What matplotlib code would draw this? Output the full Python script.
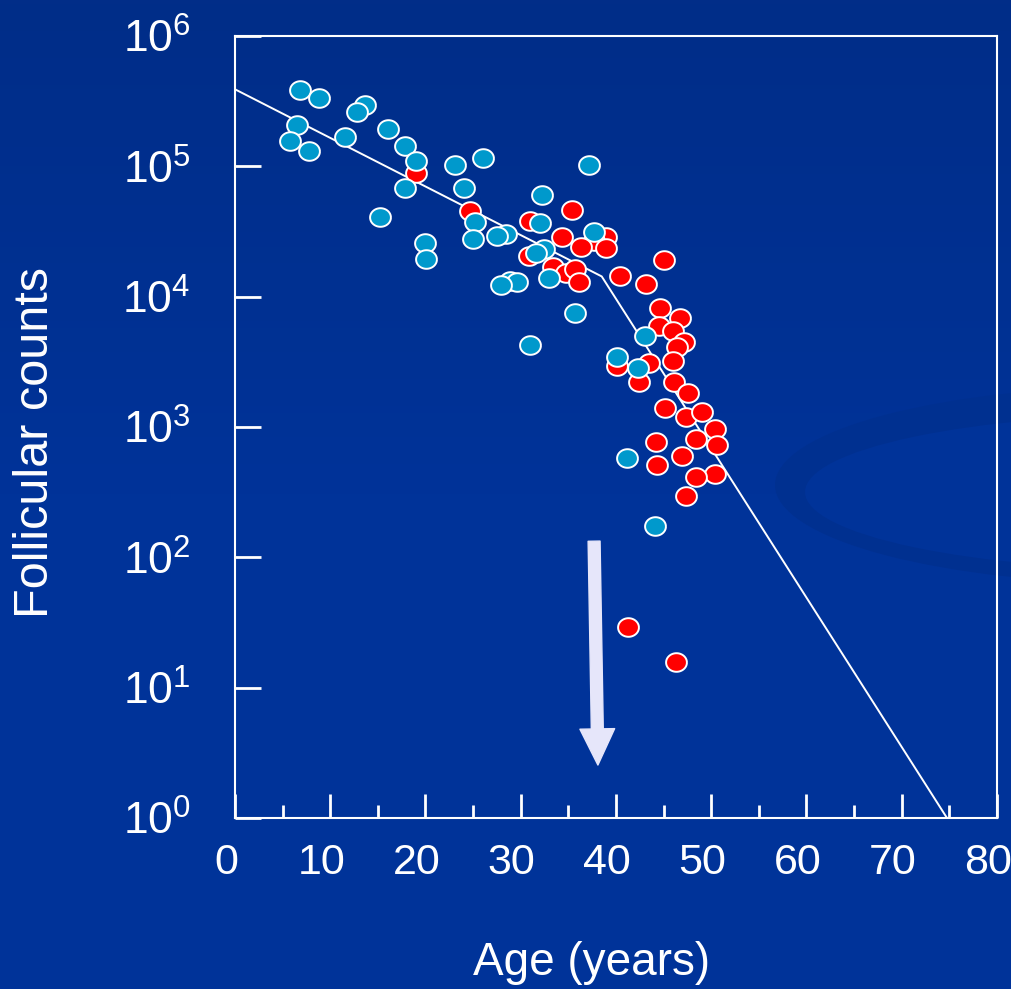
import numpy as np
import matplotlib
matplotlib.use("Agg")
import matplotlib.pyplot as plt
from matplotlib.path import Path
from matplotlib.patches import Ellipse, FancyArrowPatch
from matplotlib.ticker import FixedLocator, NullFormatter
from matplotlib.transforms import ScaledTranslation
from matplotlib.colors import LinearSegmentedColormap

plt.rcParams['font.family'] = ['Liberation Sans', 'DejaVu Sans']
plt.rcParams['mathtext.fontset'] = 'custom'
plt.rcParams['mathtext.rm'] = 'Liberation Sans'

# cyan group (age in years, follicle count)
cyan_age = [6.8, 8.8, 13.7, 12.8, 6.5, 5.8, 7.8, 11.6, 16.1, 17.8, 19.0, 23.1, 26.0,
            37.2, 17.8, 24.0, 15.2, 32.2, 32.0, 25.2, 25.0, 28.5, 27.5, 20.0, 20.1,
            37.7, 32.4, 31.6, 33.0, 28.9, 29.6, 27.9, 35.7, 31.0, 43.0, 40.1, 42.3,
            41.2, 44.1]
cyan_count = [385000, 337000, 296000, 259000, 207000, 157000, 130000, 169000, 195000,
              143000, 109000, 102000, 115000, 102000, 68200, 67900, 40800, 60300,
              36600, 37200, 27900, 30300, 29000, 25700, 19600, 31200, 23200, 21800,
              13800, 13300, 12900, 12200, 7530, 4260, 5020, 3470, 2820, 583, 173]

# red group
red_age = [19.0, 24.7, 31.0, 35.4, 34.3, 39.0, 37.7, 36.3, 38.9, 30.9, 33.4, 34.8,
           35.7, 36.1, 40.4, 45.0, 43.2, 44.6, 46.7, 44.5, 46.0, 47.1, 46.4, 46.0,
           40.1, 43.5, 42.4, 46.1, 47.6, 45.1, 47.4, 49.0, 50.4, 48.4, 50.6, 44.2,
           46.9, 44.3, 50.4, 48.4, 47.3, 41.3, 46.3]
red_count = [88300, 45400, 38300, 46000, 28500, 28800, 26900, 24000, 23600, 20500,
             16800, 15100, 16400, 13000, 14300, 19100, 12600, 8240, 6820, 5960, 5460,
             4520, 4080, 3230, 2940, 3080, 2230, 2230, 1820, 1410, 1190, 1310, 959,
             815, 728, 762, 603, 512, 437, 410, 296, 29.4, 15.6]

# broken-line fit
fit_age = [0, 38.5, 74.75]
fit_count = [3.9e5, 1.43e4, 1.0]

x_ticks = [0, 10, 20, 30, 40, 50, 60, 70, 80]
x_minor = [5, 15, 25, 35, 45, 55, 65, 75]
y_ticks = [1e0, 1e1, 1e2, 1e3, 1e4, 1e5, 1e6]
y_labels = [r'$\mathregular{10^{%d}}$' % i for i in range(7)]

bg = '#003399'
fig = plt.figure(figsize=(10.12, 9.89), dpi=100)
fig.patch.set_facecolor(bg)

# background: soft gradient + faint swoosh
bgax = fig.add_axes([0, 0, 1, 1], zorder=-5)
grad = np.linspace(0, 1, 256).reshape(-1, 1)
cmap = LinearSegmentedColormap.from_list('bg', ['#012d88', '#003399', '#003399'])
bgax.imshow(grad, extent=[0, 1012, 989, 0], aspect='auto', cmap=cmap)
bgax.add_patch(Ellipse((1150, 485), 750, 198, facecolor='#003090', edgecolor='none'))
bgax.add_patch(Ellipse((1175, 492), 740, 156, facecolor=bg, edgecolor='none'))
bgax.set_xlim(0, 1012)
bgax.set_ylim(989, 0)
bgax.axis('off')

ax = fig.add_axes([235/1012, 1 - 818/989, (997-235)/1012, (818-36)/989])
ax.set_facecolor('none')
ax.set_yscale('log')
ax.set_xlim(0, 80)
ax.set_ylim(1, 1e6)

th = np.linspace(0, 2*np.pi, 64)
oval = Path(np.column_stack([1.12*np.cos(th), np.sin(th)]))

ax.plot(fit_age, fit_count, color='white', lw=1.4, zorder=2)
ax.plot(red_age, red_count, ls='none', marker=oval, ms=15, mfc='#ff0000',
        mec='white', mew=1.4, zorder=3)
ax.plot(cyan_age, cyan_count, ls='none', marker=oval, ms=15, mfc='#0099cc',
        mec='white', mew=1.4, zorder=4)

arrow = FancyArrowPatch((37.7, 133), (38.1, 2.55),
                        arrowstyle='simple,head_length=26,head_width=25,tail_width=8.6',
                        mutation_scale=1, color='#e6e6fa', shrinkA=0, shrinkB=0, zorder=5)
ax.add_patch(arrow)

for s in ax.spines.values():
    s.set_color('white')
    s.set_linewidth(1.5)

ax.xaxis.set_major_locator(FixedLocator(x_ticks))
ax.xaxis.set_minor_locator(FixedLocator(x_minor))
ax.xaxis.set_minor_formatter(NullFormatter())
ax.yaxis.set_major_locator(FixedLocator(y_ticks))
ax.yaxis.set_minor_locator(FixedLocator([]))
ax.set_yticklabels(y_labels)
ax.tick_params(axis='x', which='major', direction='in', length=17, width=2, color='white',
               labelcolor='white', labelsize=31, pad=18)
ax.tick_params(axis='x', which='minor', direction='in', length=9.5, width=2, color='white')
ax.tick_params(axis='y', which='major', direction='in', length=18.5, width=2, color='white',
               labelcolor='white', labelsize=32, pad=32)

# tick labels sit a little left of their ticks in the original
shift = ScaledTranslation(-9/100, 0, fig.dpi_scale_trans)
for lab in ax.get_xticklabels():
    lab.set_transform(lab.get_transform() + shift)

fig.text(36/1012, 1 - 443/989, 'Follicular counts', rotation=90, color='white',
         fontsize=35, ha='center', va='center')
fig.text(592/1012, 1 - 975/989, 'Age (years)', color='white', fontsize=33,
         ha='center', va='baseline')

fig.savefig('out.png', dpi=100, facecolor=bg)
